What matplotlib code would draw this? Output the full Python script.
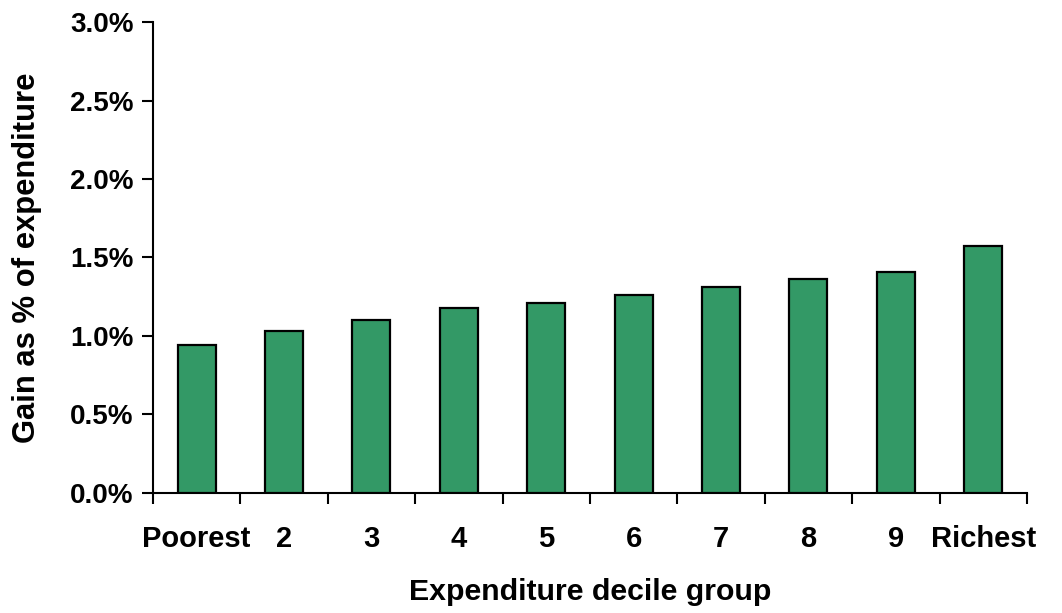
import matplotlib
matplotlib.use("Agg")
import matplotlib.pyplot as plt
import numpy as np
from matplotlib.ticker import FuncFormatter, MultipleLocator

plt.rcParams.update({
    "font.family": ["Liberation Sans", "DejaVu Sans"],
    "font.weight": "bold",
})

deciles = ["Poorest", "2", "3", "4", "5", "6", "7", "8", "9", "Richest"]
gain_pct = [0.94, 1.03, 1.10, 1.18, 1.21, 1.26, 1.31, 1.36, 1.41, 1.57]

fig = plt.figure(figsize=(10.62, 6.13), dpi=100)
ax = fig.add_axes([0.144, 0.196, 0.823, 0.768])

x = np.arange(len(deciles))
ax.bar(x, gain_pct, width=0.435, color="#339966", edgecolor="black",
       linewidth=1.6, zorder=3)

ax.set_xlim(-0.5, len(deciles) - 0.5)
ax.set_ylim(0, 3.0)

# category labels centred, tick marks on category boundaries
ax.set_xticks(x)
ax.set_xticklabels(deciles, fontsize=21, fontweight="bold")
ax.tick_params(axis="x", which="major", length=0, pad=23)
ax.set_xticks(np.arange(-0.5, len(deciles)), minor=True)
ax.tick_params(axis="x", which="minor", length=8, width=1.5, direction="out")

ax.yaxis.set_major_locator(MultipleLocator(0.5))
ax.yaxis.set_major_formatter(FuncFormatter(lambda v, p: f"{v:.1f}%"))
ax.tick_params(axis="y", length=8, width=1.5, pad=6, labelsize=20)
for lbl in ax.get_yticklabels():
    lbl.set_fontweight("bold")

for s in ["top", "right"]:
    ax.spines[s].set_visible(False)
for s in ["left", "bottom"]:
    ax.spines[s].set_linewidth(1.5)

ax.set_xlabel("Expenditure decile group", fontsize=21.8, fontweight="bold", labelpad=18)
ax.set_ylabel("Gain as % of expenditure", fontsize=22.3, fontweight="bold", labelpad=20)

fig.savefig("out.png", dpi=100)
